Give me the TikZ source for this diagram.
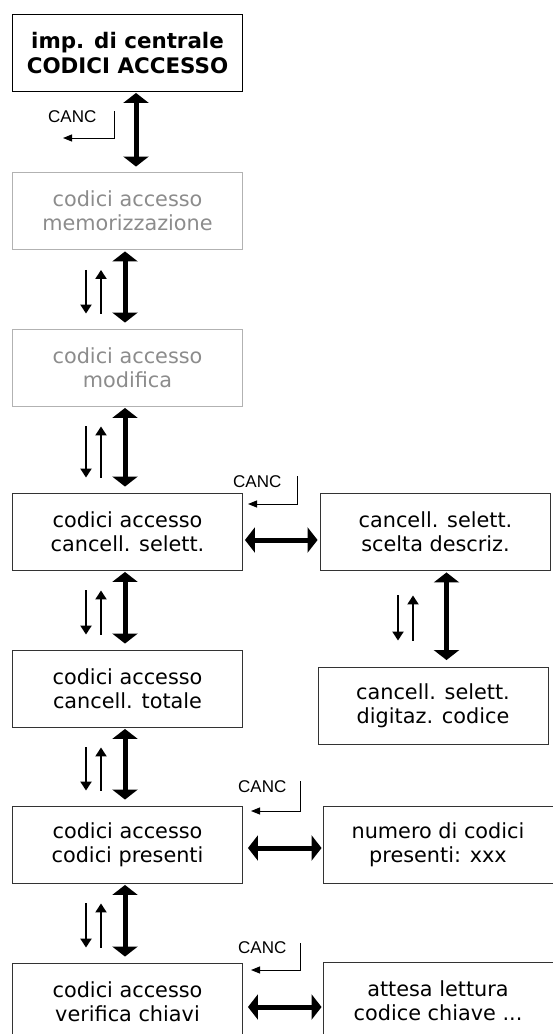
\documentclass[tikz,border=0pt]{standalone}
\usepackage{fontspec}
\setmainfont{DejaVu Sans}
\newfontfamily\cancfont{Liberation Sans}
\usetikzlibrary{arrows.meta}

\begin{document}
\begin{tikzpicture}[x=1pt, y=-1pt,
  menu/.style={draw=black!80, line width=0.9pt, minimum width=230pt, minimum height=77pt,
    inner sep=0pt, align=center, font=\fontsize{20.8pt}{24pt}\selectfont},
  menugray/.style={menu, draw=black!30, text=black!45},
  menutop/.style={menu, draw=black, font=\bfseries\fontsize{21.4pt}{25pt}\selectfont},
  big/.style={{Triangle[width=25pt,length=10pt]}-{Triangle[width=25pt,length=10pt]}, line width=5pt},
  small/.style={-{Triangle[width=11pt,length=9pt]}, line width=2pt},
  canc/.style={-{Triangle[width=7pt,length=9pt]}, line width=1pt},
  canctext/.style={anchor=base west, inner sep=0pt, font=\cancfont\fontsize{17pt}{19pt}\selectfont}]
  \useasboundingbox (0,0) rectangle (552,1034);

  % menu di sinistra
  \node[menutop]  (imp)    at (127.5,53)    {imp. di centrale\\CODICI ACCESSO};
  \node[menugray] (mem)    at (127.5,211)   {codici accesso\\memorizzazione};
  \node[menugray] (mod)    at (127.5,367.5) {codici accesso\\modifica};
  \node[menu]     (sel)    at (127.5,531.5) {codici accesso\\cancell. selett.};
  \node[menu]     (tot)    at (127.5,688.5) {codici accesso\\cancell. totale};
  \node[menu]     (pres)   at (127.5,844.5) {codici accesso\\codici presenti};
  \node[menu]     (chiavi) at (127.5,1001.5) {codici accesso\\verifica chiavi};

  % sottomenu
  \node[menu] (descr)  at (435.5,531.5) {cancell. selett.\\scelta descriz.};
  \node[menu] (digit)  at (433,705.5)   {cancell. selett.\\digitaz. codice};
  \node[menu] (num)    at (438,845)     {numero di codici\\presenti: xxx};
  \node[menu] (attesa) at (438,1001)    {attesa lettura\\codice chiave ...};

  \draw[big, shorten <=1pt, shorten >=5.5pt] ([xshift=8.5pt]imp.south) -- ([xshift=8.5pt]mem.north);

  \foreach \a/\b in {mem/mod, mod/sel, sel/tot, tot/pres, pres/chiavi} {
    \draw[big, shorten <=1.5pt, shorten >=6pt] ([xshift=-2.5pt]\a.south) -- ([xshift=-2.5pt]\b.north);
    \draw[small, shorten <=20pt, shorten >=15pt] ([xshift=-41.5pt]\a.south) -- ([xshift=-41.5pt]\b.north);
    \draw[small, shorten <=15pt, shorten >=20pt] ([xshift=-26.5pt]\b.north) -- ([xshift=-26.5pt]\a.south);
  }

  \draw[big, shorten <=2pt, shorten >=6.5pt] ([xshift=11pt]descr.south) -- ([xshift=11pt]descr.south |- digit.north);
  \draw[small, shorten <=25pt, shorten >=26pt] ([xshift=-37.5pt]descr.south) -- ([xshift=-37.5pt]descr.south |- digit.north);
  \draw[small, shorten <=26pt, shorten >=25pt] ([xshift=-22.5pt]descr.south |- digit.north) -- ([xshift=-22.5pt]descr.south);

  \draw[big, shorten <=2pt, shorten >=2.5pt] ([yshift=-8.5pt]sel.east) -- ([yshift=-8.5pt]sel.east -| descr.west);
  \draw[big, shorten <=5pt, shorten >=1pt] ([yshift=-3.5pt]pres.east) -- ([yshift=-3.5pt]pres.east -| num.west);
  \draw[big, shorten <=5pt, shorten >=1pt] ([yshift=-5.5pt]chiavi.east) -- ([yshift=-5.5pt]chiavi.east -| attesa.west);

  % CANC
  \coordinate (k0a) at (114,111);
  \coordinate (k0b) at (63,138);
  \draw[canc] (k0a) |- (k0b);
  \node[canctext] (k0) at (48,122) {CANC};

  \coordinate (k3a) at (297,476);
  \coordinate (k3b) at (248,504);
  \draw[canc] (k3a) |- (k3b);
  \node[canctext] (k3) at (233,487) {CANC};

  \coordinate (k5a) at (300,781);
  \coordinate (k5b) at (251,811);
  \draw[canc] (k5a) |- (k5b);
  \node[canctext] (k5) at (238,792) {CANC};

  \coordinate (k6a) at (300,943);
  \coordinate (k6b) at (251,970);
  \draw[canc] (k6a) |- (k6b);
  \node[canctext] (k6) at (238,953) {CANC};
\end{tikzpicture}
\end{document}
